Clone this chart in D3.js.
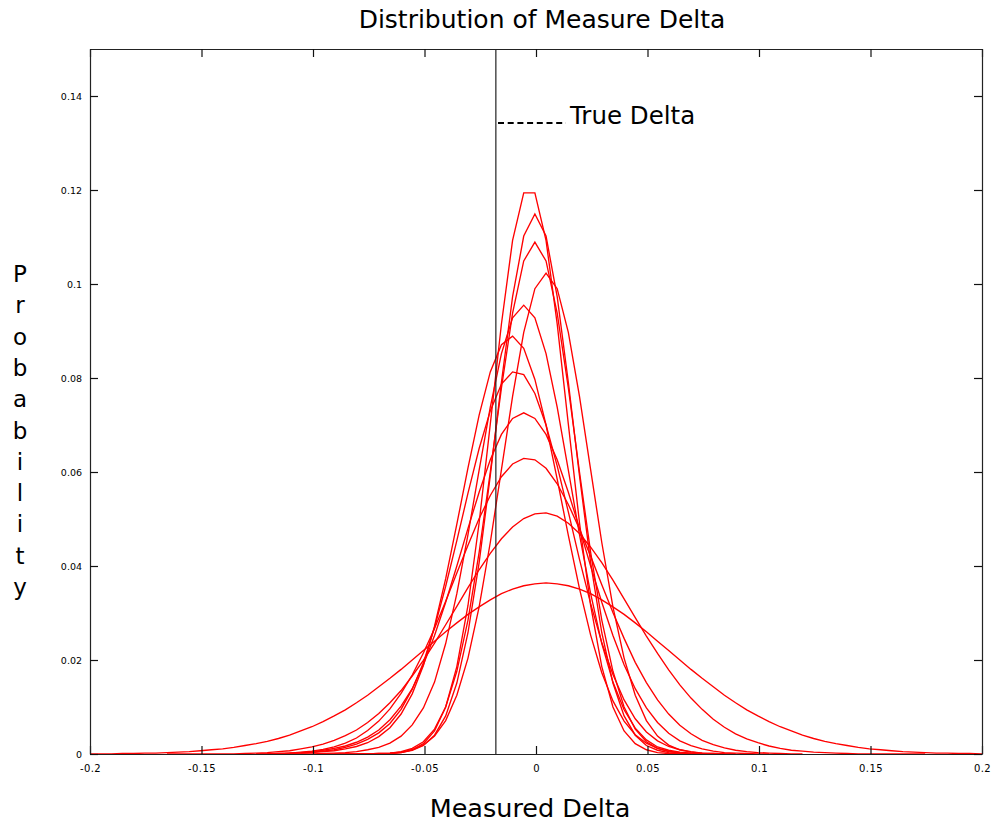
<!DOCTYPE html>
<html>
<head>
<meta charset="utf-8">
<script src="https://cdn.jsdelivr.net/npm/d3@7"></script>
<style>
  html, body { margin: 0; padding: 0; background: #fff; }
  svg { display: block; }
  text { font-family: "DejaVu Sans", "Liberation Sans", sans-serif; fill: #000; }
</style>
</head>
<body>
<svg id="chart" width="993" height="822"></svg>
<script>
// Histogram step shared by every run (bin width of the measured delta)
const step = 0.005;

// First bin position of each run
const runStarts = [-0.0905, -0.0755, -0.0955, -0.0805, -0.1055, -0.1205, -0.1205, -0.1255, -0.1255, -0.1655, -0.2005];

// Probability per bin for each run
const run1 = [0,0,0,0,0,0.0001,0.0003,0.0009,0.0022,0.0049,0.0100,0.0186,0.0316,0.0492,0.0702,0.0915,0.1093,0.1194,0.1194,0.1093,0.0915,0.0702,0.0492,0.0316,0.0186,0.0100,0.0049,0.0022,0.0009,0.0003,0.0001,0,0];
const run2 = [0,0,0.0001,0.0003,0.0008,0.0018,0.0040,0.0081,0.0151,0.0258,0.0407,0.0592,0.0791,0.0973,0.1102,0.1149,0.1102,0.0973,0.0791,0.0592,0.0407,0.0258,0.0151,0.0081,0.0040,0.0018,0.0008,0.0003,0.0001,0,0];
const run3 = [0,0,0,0,0,0.0001,0.0002,0.0005,0.0012,0.0026,0.0053,0.0100,0.0176,0.0285,0.0429,0.0600,0.0779,0.0938,0.1049,0.1089,0.1049,0.0938,0.0779,0.0600,0.0429,0.0285,0.0176,0.0100,0.0053,0.0026,0.0012,0.0005,0.0002,0.0001,0,0,0];
const run4 = [0,0,0.0001,0.0002,0.0004,0.0009,0.0019,0.0038,0.0071,0.0125,0.0204,0.0313,0.0450,0.0605,0.0761,0.0897,0.0990,0.1023,0.0990,0.0897,0.0761,0.0605,0.0450,0.0313,0.0204,0.0125,0.0071,0.0038,0.0019,0.0009,0.0004,0.0002,0.0001,0,0];
const run5 = [0,0,0.0001,0.0002,0.0003,0.0005,0.0009,0.0014,0.0023,0.0038,0.0062,0.0098,0.0153,0.0235,0.0341,0.0467,0.0604,0.0738,0.0852,0.0928,0.0955,0.0928,0.0852,0.0738,0.0604,0.0467,0.0341,0.0235,0.0153,0.0094,0.0055,0.0030,0.0015,0.0008,0.0004,0.0002,0.0001,0,0];
const run6 = [0,0,0.0001,0.0002,0.0003,0.0005,0.0007,0.0011,0.0016,0.0024,0.0037,0.0056,0.0085,0.0128,0.0188,0.0272,0.0373,0.0489,0.0609,0.0721,0.0813,0.0871,0.0889,0.0863,0.0797,0.0700,0.0585,0.0465,0.0352,0.0253,0.0173,0.0113,0.0070,0.0041,0.0023,0.0012,0.0006,0.0003,0.0001,0,0,0];
const run7 = [0,0,0.0001,0.0002,0.0004,0.0006,0.0009,0.0014,0.0021,0.0031,0.0045,0.0065,0.0095,0.0138,0.0194,0.0269,0.0357,0.0454,0.0555,0.0650,0.0730,0.0787,0.0813,0.0807,0.0767,0.0700,0.0613,0.0515,0.0414,0.0320,0.0237,0.0169,0.0115,0.0075,0.0047,0.0028,0.0016,0.0009,0.0005,0.0002,0.0001,0,0];
const run8 = [0,0,0.0001,0.0002,0.0003,0.0005,0.0008,0.0012,0.0017,0.0025,0.0036,0.0051,0.0073,0.0102,0.0139,0.0190,0.0252,0.0323,0.0400,0.0480,0.0557,0.0626,0.0680,0.0714,0.0726,0.0714,0.0680,0.0626,0.0557,0.0480,0.0400,0.0323,0.0252,0.0190,0.0139,0.0098,0.0067,0.0044,0.0028,0.0018,0.0011,0.0006,0.0003,0.0002,0.0001,0,0];
const run9 = [0,0,0.0001,0.0002,0.0004,0.0006,0.0010,0.0015,0.0023,0.0034,0.0050,0.0070,0.0096,0.0129,0.0168,0.0215,0.0267,0.0325,0.0385,0.0444,0.0501,0.0550,0.0590,0.0617,0.0629,0.0626,0.0608,0.0575,0.0531,0.0479,0.0421,0.0360,0.0301,0.0246,0.0195,0.0152,0.0115,0.0085,0.0061,0.0043,0.0029,0.0020,0.0013,0.0008,0.0005,0.0003,0.0002,0.0001,0,0];
const run10 = [0,0,0,0,0,0,0,0.0001,0.0002,0.0003,0.0005,0.0007,0.0011,0.0015,0.0021,0.0029,0.0039,0.0051,0.0067,0.0086,0.0109,0.0135,0.0166,0.0199,0.0236,0.0275,0.0314,0.0354,0.0392,0.0427,0.0458,0.0483,0.0501,0.0511,0.0513,0.0506,0.0491,0.0469,0.0440,0.0407,0.0370,0.0330,0.0290,0.0251,0.0214,0.0179,0.0147,0.0119,0.0095,0.0074,0.0057,0.0043,0.0032,0.0024,0.0017,0.0012,0.0008,0.0006,0.0004,0.0003,0.0002,0.0001,0,0,0,0,0,0,0];
const run11 = [0,0,0,0.0001,0.0001,0.0002,0.0002,0.0003,0.0004,0.0005,0.0007,0.0009,0.0011,0.0014,0.0018,0.0022,0.0027,0.0033,0.0040,0.0049,0.0058,0.0069,0.0081,0.0094,0.0109,0.0125,0.0143,0.0161,0.0180,0.0200,0.0220,0.0240,0.0260,0.0279,0.0297,0.0313,0.0328,0.0341,0.0351,0.0358,0.0362,0.0364,0.0362,0.0358,0.0351,0.0341,0.0328,0.0313,0.0297,0.0279,0.0260,0.0240,0.0220,0.0200,0.0180,0.0161,0.0143,0.0125,0.0109,0.0094,0.0081,0.0069,0.0058,0.0049,0.0040,0.0033,0.0027,0.0022,0.0018,0.0014,0.0011,0.0009,0.0007,0.0005,0.0004,0.0003,0.0002,0.0002,0.0001,0.0001,0,0];

const runs = [run1, run2, run3, run4, run5, run6, run7, run8, run9, run10, run11];

// Reference value of the delta
const trueDelta = -0.018;

// Axis ticks
const xTicks = [-0.2, -0.15, -0.1, -0.05, 0, 0.05, 0.1, 0.15, 0.2];
const xTickLabels = ["-0.2", "-0.15", "-0.1", "-0.05", "0", "0.05", "0.1", "0.15", "0.2"];
const yTicks = [0, 0.02, 0.04, 0.06, 0.08, 0.1, 0.12, 0.14];
const yTickLabels = ["0", "0.02", "0.04", "0.06", "0.08", "0.1", "0.12", "0.14"];

// Layout
const W = 993, H = 822;
const plot = { left: 90, right: 982, top: 49, bottom: 754 };

const svg = d3.select("#chart");

const x = d3.scaleLinear().domain([-0.2, 0.2]).range([plot.left, plot.right]);
const y = d3.scaleLinear().domain([0, 0.15]).range([plot.bottom, plot.top]);

svg.append("defs").append("clipPath").attr("id", "plot-clip")
  .append("rect")
  .attr("x", plot.left).attr("y", plot.top - 2)
  .attr("width", plot.right - plot.left).attr("height", plot.bottom - plot.top + 3);

// Distribution curves
const line = d3.line()
  .x(d => x(d[0]))
  .y(d => y(d[1]));

const curves = svg.append("g").attr("clip-path", "url(#plot-clip)");
runs.forEach((vals, i) => {
  const pts = vals.map((v, k) => [runStarts[i] + k * step, v]);
  curves.append("path")
    .datum(pts)
    .attr("d", line)
    .attr("fill", "none")
    .attr("stroke", "#ff0000")
    .attr("stroke-width", 1.35);
});

// True delta marker
svg.append("line")
  .attr("x1", x(trueDelta)).attr("x2", x(trueDelta))
  .attr("y1", y(0.15)).attr("y2", y(0))
  .attr("stroke", "#222").attr("stroke-width", 1.2);

// Axes with inward ticks on all four sides
const tickLen = 8;
const styleAxis = g => {
  g.selectAll(".domain").attr("stroke", "#222").attr("stroke-width", 1.2);
  g.selectAll(".tick line").attr("stroke", "#111").attr("stroke-width", 1.2);
};

svg.append("g")
  .attr("transform", `translate(0,${plot.bottom})`)
  .call(d3.axisBottom(x).tickValues(xTicks).tickFormat((d, i) => xTickLabels[i])
    .tickSizeInner(-tickLen).tickSizeOuter(0).tickPadding(11))
  .call(styleAxis)
  .call(g => g.selectAll(".tick text")
    .attr("font-size", 10).attr("letter-spacing", 0.4)
    .attr("font-family", "DejaVu Sans").attr("fill", "#000"));

svg.append("g")
  .attr("transform", `translate(0,${plot.top})`)
  .call(d3.axisTop(x).tickValues(xTicks).tickFormat(() => "")
    .tickSizeInner(-tickLen).tickSizeOuter(0))
  .call(styleAxis);

svg.append("g")
  .attr("transform", `translate(${plot.left},0)`)
  .call(d3.axisLeft(y).tickValues(yTicks).tickFormat((d, i) => yTickLabels[i])
    .tickSizeInner(-tickLen).tickSizeOuter(0).tickPadding(8))
  .call(styleAxis)
  .call(g => g.selectAll(".tick text")
    .attr("font-size", 9.5).attr("font-family", "DejaVu Sans").attr("fill", "#000"));

svg.append("g")
  .attr("transform", `translate(${plot.right},0)`)
  .call(d3.axisRight(y).tickValues(yTicks).tickFormat(() => "")
    .tickSizeInner(-tickLen).tickSizeOuter(0))
  .call(styleAxis);

// Title
svg.append("text")
  .attr("x", 542).attr("y", 28)
  .attr("text-anchor", "middle")
  .attr("font-size", 25)
  .text("Distribution of Measure Delta");

// Legend
svg.append("line")
  .attr("x1", 498).attr("x2", 566)
  .attr("y1", 123).attr("y2", 123)
  .attr("stroke", "#000").attr("stroke-width", 2)
  .attr("stroke-dasharray", "6,3.7");
svg.append("text")
  .attr("x", 570).attr("y", 124)
  .attr("font-size", 24.5)
  .text("True Delta");

// X axis title
svg.append("text")
  .attr("x", 530).attr("y", 817)
  .attr("text-anchor", "middle")
  .attr("font-size", 25.5)
  .text("Measured Delta");

// Y axis title, one letter per line
const yTitle = "Probability".split("");
svg.append("g").selectAll("text")
  .data(yTitle)
  .join("text")
  .attr("x", 20)
  .attr("y", (d, i) => 282 + i * 31.3)
  .attr("text-anchor", "middle")
  .attr("font-size", 23)
  .text(d => d);
</script>
</body>
</html>
